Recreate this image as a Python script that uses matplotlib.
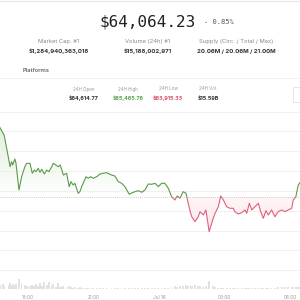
import numpy as np
import matplotlib
matplotlib.use('Agg')
import matplotlib.pyplot as plt
from matplotlib.patches import Rectangle
from matplotlib.path import Path
from matplotlib.colors import LinearSegmentedColormap

# hours since Jul 15 00:00
hours = [16.72, 16.85, 16.91, 17.14, 17.18, 17.25, 17.30, 17.40, 17.45, 17.59,
         17.71, 17.86, 17.94, 18.09, 18.20, 18.29, 18.37, 18.47, 18.55, 18.63,
         18.75, 18.86, 18.96, 19.09, 19.16, 19.28, 19.39, 19.47, 19.54, 19.62,
         19.77, 19.89, 19.97, 20.07, 20.15, 20.30, 20.38, 20.46, 20.53, 20.66,
         20.76, 20.87, 20.99, 21.15, 21.30, 21.45, 21.60, 21.83, 21.98, 22.14,
         22.29, 22.44, 22.64, 22.75, 22.90, 23.05, 23.21, 23.36, 23.51, 23.67,
         23.82, 23.97, 24.12, 24.27, 24.43, 24.58, 24.73, 24.84, 24.96, 25.11,
         25.24, 25.34, 25.45, 25.51, 25.65, 25.80, 25.88, 26.03, 26.15, 26.30,
         26.46, 26.57, 26.72, 26.83, 26.95, 27.10, 27.25, 27.40, 27.48, 27.63,
         27.79, 27.94, 28.02, 28.14, 28.25, 28.40, 28.55, 28.66, 28.78, 28.90,
         29.01, 29.16, 29.31, 29.46, 29.62, 29.77, 29.92, 30.08, 30.15, 30.27,
         30.38, 30.46]
prices = [66013, 65906, 65865, 65327, 65226, 65327, 65260, 65381, 65301, 64756,
          65024, 65226, 65294, 65294, 65093, 65159, 65125, 65194, 65113, 65173,
          65079, 65159, 65125, 65226, 65294, 65260, 65226, 65260, 65180, 65058,
          65093, 64823, 64923, 64857, 64891, 64689, 64722, 64823, 64891, 65024,
          64992, 65024, 64992, 65024, 65079, 65093, 65105, 65058, 65038, 64923,
          64891, 64823, 64669, 64695, 64722, 64742, 64710, 64756, 64877, 64871,
          64891, 64823, 64891, 64891, 64790, 64621, 64554, 64635, 64589, 64722,
          64689, 64488, 64286, 64211, 64117, 64217, 64318, 64252, 64353, 63915,
          64151, 64286, 64419, 64635, 64554, 64419, 64387, 64387, 64318, 64272,
          64298, 64353, 64286, 64488, 64353, 64419, 64488, 64318, 64185, 64338,
          64252, 64353, 64217, 64318, 64353, 64318, 64353, 64387, 64554, 64621,
          64857, 64903]
volumes = [4, 5, 3, 4, 6, 3, 5, 4, 5, 10,
           6, 4, 3, 3, 4, 3, 5, 3, 6, 3,
           7, 4, 7, 3, 5, 2, 6, 2, 2, 3,
           2, 3, 2, 1.5, 2, 1.5, 2, 1.5, 1, 1.5,
           1, 1.5, 1, 1, 1, 1.5, 1, 1, 1, 1.5,
           1, 1, 1, 1, 1.5, 1, 1, 1, 1, 1,
           1, 1, 1, 1, 1, 2, 3, 2, 3, 3,
           4, 3, 4, 3, 4, 3, 3, 2, 3, 8,
           3, 2, 1.5, 1, 1, 1, 1, 1, 1, 1,
           1, 1, 1, 1, 1, 1, 1, 1, 1, 1,
           1, 1, 1, 2, 2, 2, 2, 2, 2, 2,
           2, 2]
open_price = 64614.77

tick_hours = [18, 21, 24, 27, 30]
tick_labels = ['18:00', '21:00', 'Jul 16', '03:00', '06:00']

stat_labels = ['Market Cap. #1', 'Volume (24h) #1', 'Supply (Circ. / Total / Max)']
stat_values = ['$1,284,940,363,018', '$15,188,002,971', '20.06M / 20.06M / 21.00M']
day_labels = ['24H Open', '24H High', '24H Low', '24H Vol.']
day_values = ['$64,614.77', '$65,465.76', '$63,915.33', '$15.59B']

plt.rcParams['font.family'] = ['Inter', 'DejaVu Sans']

green = '#5c9a4a'
red = '#e0607c'

fig = plt.figure(figsize=(3, 3), dpi=100)
fig.patch.set_facecolor('white')

def fy(py):
    return 1 - py / 300.0

def merged(paths):
    # join the separate fill polygons into one clip path
    verts, codes = [], []
    for pth in paths:
        verts.append(pth.vertices)
        c = pth.codes if pth.codes is not None else np.full(len(pth.vertices), Path.LINETO)
        c = c.copy()
        c[0] = Path.MOVETO
        codes.append(c)
    return Path(np.concatenate(verts), np.concatenate(codes))

# header
fig.add_artist(plt.Line2D([0, 1], [fy(1), fy(1)], color='#e6e6e6', lw=0.8))
fig.text(148 / 300, fy(22), '$64,064.23', ha='center', va='center',
         fontsize=11.5, family='DejaVu Sans Mono', color='#222222')
fig.text(204 / 300, fy(22), '- 0.85%', ha='left', va='center',
         fontsize=5, family='DejaVu Sans Mono', color='#555555')

for cx, lab, val in zip([59, 148, 236], stat_labels, stat_values):
    fig.text(cx / 300, fy(42), lab, ha='center', va='center', fontsize=4.2, color='#888888')
    fig.text(cx / 300, fy(51), val, ha='center', va='center', fontsize=4.3,
             color='#333333', fontweight='bold')

fig.text(23 / 300, fy(70), 'Platforms', ha='left', va='center', fontsize=4.2,
         color='#666666', fontweight='semibold')
fig.add_artist(plt.Line2D([0, 1], [fy(78), fy(78)], color='#f0f0f0', lw=0.6))

day_colors = ['#333333', '#5aa34f', '#d94a63', '#333333']
for cx, lab, val, c in zip([84, 128, 168, 208], day_labels, day_values, day_colors):
    fig.text(cx / 300, fy(89), lab, ha='center', va='center', fontsize=3.2, color='#999999')
    fig.text(cx / 300, fy(98), val, ha='center', va='center', fontsize=3.9,
             color=c, fontweight='bold')

fig.add_artist(Rectangle((293 / 300, fy(102)), 0.05, 15 / 300, transform=fig.transFigure,
                         fill=False, edgecolor='#dddddd', lw=0.5))

# price chart
ax = fig.add_axes([0, fy(271), 1, (271 - 105) / 300])
xmin, xmax = 16.72, 30.46
ymin, ymax = 63122, 66470
ax.set_facecolor('none')
for s in ax.spines.values():
    s.set_visible(False)
ax.set_xticks([])
ax.set_yticks(np.arange(63136, 66400, 400))
ax.tick_params(left=False, labelleft=False)
ax.grid(axis='y', color='#eeeeee', lw=0.6)

t = np.array(hours)
p = np.array(prices)

# gradient fills between the line and the open price
grad = np.linspace(0, 1, 256).reshape(-1, 1)
gcmap = LinearSegmentedColormap.from_list('g', ['#ffffff', '#e2f0dc'])
rcmap = LinearSegmentedColormap.from_list('r', ['#fde6ea', '#fff6f7'])
poly_g = ax.fill_between(t, p, open_price, where=p >= open_price, interpolate=True,
                         color='none', lw=0)
poly_r = ax.fill_between(t, p, open_price, where=p <= open_price, interpolate=True,
                         color='none', lw=0)
img_g = ax.imshow(grad, cmap=gcmap, aspect='auto', origin='lower',
                  extent=[xmin, xmax, open_price, p.max()], zorder=1)
img_r = ax.imshow(grad, cmap=rcmap, aspect='auto', origin='lower',
                  extent=[xmin, xmax, p.min(), open_price], zorder=1)
img_g.set_clip_path(merged(poly_g.get_paths()), transform=ax.transData)
img_r.set_clip_path(merged(poly_r.get_paths()), transform=ax.transData)
ax.set_xlim(xmin, xmax)
ax.set_ylim(ymin, ymax)

ax.axhline(open_price, color='#bbbbbb', lw=0.6, dashes=(1, 1.5), zorder=2)

top_clip = Rectangle((xmin, open_price), xmax - xmin, ymax - open_price, transform=ax.transData)
bot_clip = Rectangle((xmin, ymin), xmax - xmin, open_price - ymin, transform=ax.transData)
lg, = ax.plot(t, p, color=green, lw=0.8, zorder=3)
lg.set_clip_path(top_clip)
lr, = ax.plot(t, p, color=red, lw=0.8, zorder=3)
lr.set_clip_path(bot_clip)

# volume
axv = fig.add_axes([0, fy(289), 1, 17 / 300])
axv.bar(hours, volumes, width=0.08, color='#e2e2e2', lw=0)
axv.set_xlim(xmin, xmax)
axv.set_ylim(0, 17)
axv.set_facecolor('none')
for s in axv.spines.values():
    s.set_visible(False)
axv.set_yticks([])
axv.set_xticks(tick_hours)
axv.set_xticklabels(tick_labels)
axv.tick_params(axis='x', length=0, pad=4, labelsize=3.4, labelcolor='#999999')

fig.savefig('out.png', dpi=100)
